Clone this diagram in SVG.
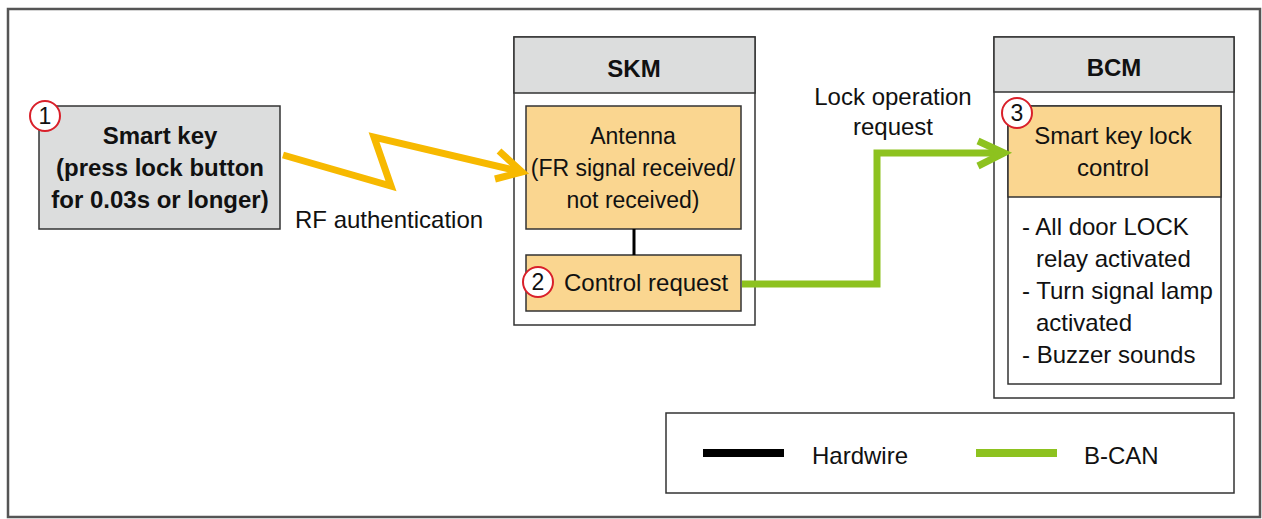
<svg xmlns="http://www.w3.org/2000/svg" width="1262" height="519" viewBox="0 0 1262 519">
  <defs>
    <style>
      text { font-family: "Liberation Sans", Arial, sans-serif; font-size: 24px; fill: #111; }
      .b { font-weight: bold; }
      .mid { text-anchor: middle; }
      .sm { font-size: 23px; }
      .digit { font-size: 23px; }
      .frame { fill: #fff; stroke: #555; stroke-width: 2.5; }
      .box { stroke: #333; stroke-width: 1.5; }
      .gray { fill: #dcdddd; }
      .orange { fill: #fad690; }
      .white { fill: #fff; }
      .num { fill: #fff; stroke: #d9202a; stroke-width: 2; }
      .rf { fill: none; stroke: #f7b900; stroke-width: 7; stroke-linejoin: miter; stroke-miterlimit: 10; }
      .can { fill: none; stroke: #8dc21f; stroke-width: 7; stroke-linejoin: miter; }
      .hw { fill: none; stroke: #000; stroke-width: 3; }
    </style>
  </defs>

  <!-- outer frame -->
  <rect class="frame" x="8" y="9" width="1252" height="508"/>

  <!-- smart key -->
  <g id="smart-key">
    <rect class="box gray" x="39" y="106" width="241" height="123"/>
    <text class="b mid" x="160" y="144">Smart key</text>
    <text class="b mid" x="160" y="176">(press lock button</text>
    <text class="b mid" x="160" y="208">for 0.03s or longer)</text>
    <circle class="num" cx="45" cy="116" r="15"/>
    <text class="mid digit" x="45" y="124">1</text>
  </g>

  <!-- SKM module -->
  <g id="skm">
    <rect class="box white" x="514" y="37" width="241" height="288"/>
    <rect class="box gray" x="514" y="37" width="241" height="56"/>
    <text class="b mid" x="634" y="77">SKM</text>
  </g>

  <g id="antenna">
    <rect class="box orange" x="526" y="106" width="215" height="123"/>
    <text class="mid sm" x="633" y="144">Antenna</text>
    <text class="mid sm" x="633" y="176">(FR signal received/</text>
    <text class="mid sm" x="633" y="208">not received)</text>
  </g>

  <g id="control-request">
    <rect class="box orange" x="526" y="255" width="215" height="56"/>
    <text x="564" y="291">Control request</text>
    <circle class="num" cx="538" cy="282" r="15"/>
    <text class="mid digit" x="538" y="290">2</text>
  </g>

  <!-- BCM module -->
  <g id="bcm">
    <rect class="box white" x="994" y="37" width="240" height="361"/>
    <rect class="box gray" x="994" y="37" width="240" height="55"/>
    <text class="b mid" x="1114" y="76">BCM</text>
  </g>

  <g id="lock-control">
    <rect class="box white" x="1008" y="106" width="213" height="278"/>
    <rect class="box orange" x="1008" y="106" width="213" height="91"/>
    <text class="mid" x="1113" y="144">Smart key lock</text>
    <text class="mid" x="1113" y="176">control</text>
    <text x="1022" y="235">- All door LOCK</text>
    <text x="1036" y="267">relay activated</text>
    <text x="1022" y="299">- Turn signal lamp</text>
    <text x="1036" y="331">activated</text>
    <text x="1022" y="363">- Buzzer sounds</text>
    <circle class="num" cx="1017" cy="113" r="15"/>
    <text class="mid digit" x="1017" y="121">3</text>
  </g>

  <!-- connectors -->
  <g id="connectors">
    <!-- RF zigzag to antenna -->
    <polyline class="rf" points="283,155 391,186 374,137 522,172"/>
    <polyline class="rf" points="499,151 522,172 495,179"/>
    <!-- hardwire antenna to control request -->
    <line class="hw" x1="634" y1="229" x2="634" y2="255"/>
    <!-- B-CAN control request to BCM -->
    <polyline class="can" points="742,284 877,284 877,153 1004,153"/>
    <polyline class="can" points="978,141 1004,153 978,166"/>
    <text x="295" y="228">RF authentication</text>
    <text class="mid" x="893" y="105">Lock operation</text>
    <text class="mid" x="893" y="135">request</text>
  </g>

  <!-- legend -->
  <g id="legend">
    <rect class="box white" x="666" y="413" width="568" height="80"/>
    <line x1="703" y1="453" x2="784" y2="453" stroke="#000" stroke-width="8"/>
    <text x="812" y="464">Hardwire</text>
    <line x1="976" y1="453" x2="1057" y2="453" stroke="#8dc21f" stroke-width="8"/>
    <text x="1084" y="464">B-CAN</text>
  </g>
</svg>
